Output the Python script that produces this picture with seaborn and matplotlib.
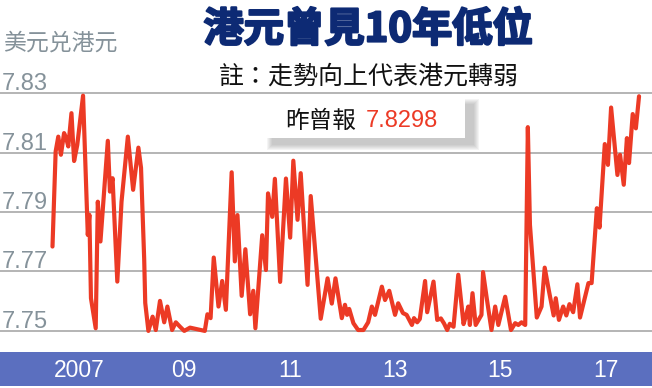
import numpy as np
import pandas as pd
import seaborn as sns
import matplotlib.pyplot as plt
import matplotlib.transforms as mtransforms
import matplotlib.patheffects as pe
from matplotlib.patches import Rectangle

# USD/HKD (decimal years)
dates = [2007.00, 2007.06, 2007.11, 2007.16, 2007.22, 2007.26, 2007.30, 2007.36, 2007.41, 2007.47,
         2007.58, 2007.67, 2007.70, 2007.73, 2007.82, 2007.86, 2007.91, 2008.05, 2008.09, 2008.14,
         2008.23, 2008.31, 2008.43, 2008.53, 2008.63, 2008.68, 2008.74, 2008.76, 2008.82, 2008.90,
         2008.96, 2009.04, 2009.12, 2009.18, 2009.27, 2009.34, 2009.42, 2009.50, 2009.61, 2009.89,
         2009.94, 2010.00, 2010.06, 2010.15, 2010.22, 2010.29, 2010.40, 2010.46, 2010.51, 2010.59,
         2010.66, 2010.75, 2010.81, 2010.85, 2010.98, 2011.05, 2011.09, 2011.17, 2011.22, 2011.32,
         2011.43, 2011.51, 2011.57, 2011.65, 2011.71, 2011.84, 2011.90, 2012.09, 2012.22, 2012.30,
         2012.37, 2012.49, 2012.55, 2012.59, 2012.63, 2012.71, 2012.80, 2012.90, 2012.99, 2013.06,
         2013.12, 2013.25, 2013.31, 2013.39, 2013.50, 2013.56, 2013.65, 2013.72, 2013.82, 2013.86,
         2013.92, 2013.97, 2014.07, 2014.11, 2014.23, 2014.30, 2014.37, 2014.43, 2014.49, 2014.54,
         2014.61, 2014.70, 2014.80, 2014.85, 2014.89, 2014.92, 2014.97, 2015.03, 2015.14, 2015.17,
         2015.24, 2015.33, 2015.40, 2015.46, 2015.59, 2015.70, 2015.78, 2015.84, 2015.90, 2015.97,
         2016.02, 2016.06, 2016.19, 2016.28, 2016.34, 2016.42, 2016.51, 2016.55, 2016.61, 2016.69,
         2016.75, 2016.81, 2016.88, 2016.96, 2017.01, 2017.17, 2017.23, 2017.33, 2017.38, 2017.48,
         2017.54, 2017.60, 2017.72, 2017.77, 2017.84, 2017.90, 2017.94, 2018.01, 2018.07, 2018.13]
hkd = [7.7784, 7.8104, 7.8154, 7.8093, 7.8166, 7.8149, 7.8121, 7.8233, 7.8072, 7.8126,
       7.8292, 7.7823, 7.7891, 7.7610, 7.7509, 7.7935, 7.7801, 7.8140, 7.7969, 7.8014,
       7.7666, 7.7935, 7.8154, 7.7975, 7.8117, 7.8049, 7.7742, 7.7594, 7.7500, 7.7548,
       7.7503, 7.7601, 7.7529, 7.7582, 7.7503, 7.7529, 7.7514, 7.7500, 7.7511, 7.7500,
       7.7556, 7.7543, 7.7747, 7.7582, 7.7668, 7.7571, 7.8034, 7.7734, 7.7890, 7.7618,
       7.7775, 7.7556, 7.7635, 7.7509, 7.7822, 7.7705, 7.7963, 7.7884, 7.8012, 7.7665,
       7.8013, 7.7814, 7.8073, 7.7874, 7.8031, 7.7655, 7.7954, 7.7541, 7.7677, 7.7592,
       7.7677, 7.7543, 7.7588, 7.7554, 7.7574, 7.7526, 7.7503, 7.7503, 7.7529, 7.7582,
       7.7554, 7.7649, 7.7604, 7.7635, 7.7554, 7.7593, 7.7560, 7.7554, 7.7520, 7.7543,
       7.7529, 7.7540, 7.7668, 7.7563, 7.7666, 7.7537, 7.7542, 7.7525, 7.7503, 7.7524,
       7.7514, 7.7689, 7.7523, 7.7554, 7.7582, 7.7520, 7.7627, 7.7520, 7.7554, 7.7698,
       7.7610, 7.7503, 7.7582, 7.7520, 7.7615, 7.7503, 7.7526, 7.7520, 7.7529, 7.7520,
       7.8186, 7.7857, 7.7545, 7.7582, 7.7713, 7.7635, 7.7552, 7.7610, 7.7537, 7.7582,
       7.7552, 7.7590, 7.7563, 7.7657, 7.7545, 7.7661, 7.7661, 7.7913, 7.7848, 7.8129,
       7.8059, 7.8252, 7.8025, 7.8093, 7.7992, 7.8149, 7.8065, 7.8230, 7.8182, 7.8290]

ytick_vals = [7.75, 7.77, 7.79, 7.81, 7.83]
year_ticks = list(range(2008, 2019))
year_labels = ['2007', '09', '11', '13', '15', '17']
label_pos = [2007.5, 2009.5, 2011.5, 2013.5, 2015.5, 2017.5]
latest = '7.8298'

df = pd.DataFrame({'date': dates, 'rate': hkd})

sns.set_style('white')
plt.rcParams['font.family'] = ['Liberation Sans', 'Noto Sans CJK TC', 'DejaVu Sans']
cjk = ['Noto Sans CJK TC', 'DejaVu Sans']

red = '#ec3a25'
band = '#5b6fbf'
grey_txt = '#85929a'
navy = '#0d2a74'

W, H = 652, 388
fig = plt.figure(figsize=(W / 100, H / 100), dpi=100)


def fx(x):
    return x / W


def fy(y):
    return 1 - y / H


# main chart area
ax = fig.add_axes([0, fy(352), 1, fy(60) - fy(352)])
ax.set_xlim(2006.004, 2018.376)
ax.set_ylim(7.7429, 7.8412)
for v in ytick_vals:
    ax.axhline(v, color='#b4b4b4', lw=1.4, zorder=1)
sns.lineplot(data=df, x='date', y='rate', color=red, lw=3, estimator=None, sort=False,
             ax=ax, zorder=3, solid_joinstyle='round')
ax.set_xlabel('')
ax.set_ylabel('')
ax.set_yticks([])
ax.set_xticks(year_ticks)
ax.tick_params(axis='x', direction='in', length=5.8, width=2.2, color=band, labelbottom=False)
for s in ax.spines.values():
    s.set_visible(False)

trans = mtransforms.blended_transform_factory(ax.transAxes, ax.transData)
trans = mtransforms.offset_copy(trans, fig=fig, x=0, y=3, units='dots')
for v in ytick_vals:
    ax.text(0.003, v, f'{v:.2f}', transform=trans, ha='left', va='baseline',
            fontsize=17, color=grey_txt)

# blue year band
bx = fig.add_axes([0, fy(386), 1, fy(352) - fy(386)])
bx.set_facecolor(band)
bx.set_xlim(ax.get_xlim())
bx.set_xticks([])
bx.set_yticks([])
for s in bx.spines.values():
    s.set_visible(False)
btrans = mtransforms.blended_transform_factory(bx.transData, bx.transAxes)
for p, lab in zip(label_pos, year_labels):
    bx.text(p, 0.45, lab, transform=btrans, ha='center', va='center', color='white', fontsize=16.5)

# titles
fig.text(fx(368), fy(30), '港元曾見10年低位', ha='center', va='center', fontsize=29,
         fontweight='bold', color=navy, family=cjk,
         path_effects=[pe.withStroke(linewidth=1.6, foreground=navy)])
fig.text(fx(369), fy(77), '註：走勢向上代表港元轉弱', ha='center', va='center', fontsize=18,
         color='#111111', family=cjk)
fig.text(fx(3), fy(43), '美元兑港元', ha='left', va='center', fontsize=16.5, color=grey_txt, family=cjk)

# latest value box with soft shadow (bottom/right only)
bx0, by0, bx1, by1 = 265, 99, 465, 138
for i in range(6):
    g = 6 - i
    fig.add_artist(Rectangle((fx(bx0 + 8 - g), fy(by1 + 6 + g)), fx(bx1 - bx0 + 2 * g),
                             fy(0) - fy(by1 - by0 + 2 * g),
                             transform=fig.transFigure, facecolor='#7a7a7a', alpha=0.08, lw=0, zorder=5))
fig.add_artist(Rectangle((fx(bx0), fy(by1)), fx(bx1 - bx0), fy(0) - fy(by1 - by0),
                         transform=fig.transFigure, facecolor='white', lw=0, zorder=6))
fig.text(fx(285), fy(121), '昨曾報', ha='left', va='center', fontsize=17, color='#111111',
         family=cjk, zorder=7)
fig.text(fx(366), fy(121), latest, ha='left', va='center', fontsize=17, color=red, zorder=7)

fig.savefig('out.png', dpi=100, facecolor='white')
